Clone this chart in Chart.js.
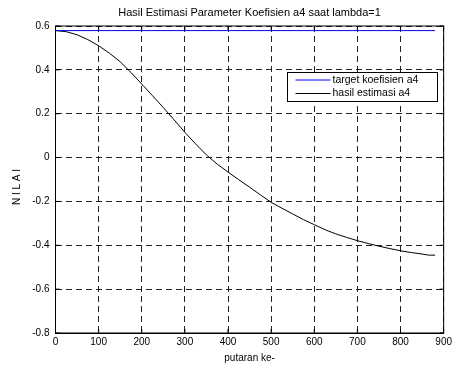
<!DOCTYPE html>
<html>
<head>
<meta charset="utf-8">
<title>Hasil Estimasi Parameter Koefisien a4</title>
<script src="https://cdn.jsdelivr.net/npm/chart.js@4.4.1/dist/chart.umd.min.js"></script>
<style>
  html, body { margin: 0; padding: 0; background: #fff; }
  #wrap { width: 455px; height: 369px; }
</style>
</head>
<body>
<div id="wrap"><canvas id="chart" width="455" height="369"></canvas></div>
<script>
// ==============================
// Data
// ==============================
const iterations = [0, 25, 50, 75, 100, 125, 150, 175, 200, 225, 250, 275, 300, 325, 350, 375,
  400, 425, 450, 475, 500, 525, 550, 575, 600, 625, 650, 675, 700, 725, 750, 775, 800, 825, 850, 865, 880];
const estimateA4 = [0.579, 0.574, 0.560, 0.538, 0.510, 0.476, 0.437, 0.388, 0.335, 0.282, 0.228, 0.172,
  0.115, 0.062, 0.012, -0.030, -0.066, -0.101, -0.135, -0.170, -0.204, -0.231, -0.257, -0.283, -0.306,
  -0.329, -0.348, -0.364, -0.379, -0.392, -0.404, -0.415, -0.425, -0.433, -0.440, -0.445, -0.445];
const targetIter = [0, 880];
const targetA4 = [0.579, 0.579];

const xTicks = [0, 100, 200, 300, 400, 500, 600, 700, 800, 900];
const yTicks = [-0.8, -0.6, -0.4, -0.2, 0, 0.2, 0.4, 0.6];

const titleText = "Hasil Estimasi Parameter Koefisien a4 saat lambda=1";
const xLabel = "putaran ke-";
const yLabel = "N I L A I";

const FONT = "'Liberation Sans', Arial, sans-serif";

function toPoints(xs, ys) {
  return xs.map((x, i) => ({ x: x, y: ys[i] }));
}

// ==============================
// Plugin: box, inward ticks, title, axis labels, legend
// ==============================
const matlabFrame = {
  id: "matlabFrame",
  afterDatasetsDraw(chart) {
    const ctx = chart.ctx;
    const a = chart.chartArea;
    const xs = chart.scales.x, ys = chart.scales.y;
    ctx.save();

    // axes box
    ctx.strokeStyle = "#000";
    ctx.lineWidth = 1;
    ctx.setLineDash([]);
    ctx.strokeRect(a.left, a.top, a.right - a.left, a.bottom - a.top);

    // inward tick marks on all four sides
    const tl = 4;
    ctx.beginPath();
    xTicks.forEach((v) => {
      const px = xs.getPixelForValue(v);
      ctx.moveTo(px, a.bottom); ctx.lineTo(px, a.bottom - tl);
      ctx.moveTo(px, a.top); ctx.lineTo(px, a.top + tl);
    });
    yTicks.forEach((v) => {
      const py = ys.getPixelForValue(v);
      ctx.moveTo(a.left, py); ctx.lineTo(a.left + tl, py);
      ctx.moveTo(a.right, py); ctx.lineTo(a.right - tl, py);
    });
    ctx.stroke();

    // title
    ctx.fillStyle = "#000";
    ctx.font = "11px " + FONT;
    ctx.textAlign = "center";
    ctx.textBaseline = "middle";
    ctx.fillText(titleText, (a.left + a.right) / 2, 13);

    // axis labels
    ctx.font = "10px " + FONT;
    ctx.fillText(xLabel, (a.left + a.right) / 2, 358);
    ctx.save();
    ctx.translate(17, 187);
    ctx.rotate(-Math.PI / 2);
    ctx.fillText(yLabel, 0, 0);
    ctx.restore();

    // legend box
    const lx = 287.5, ly = 72.5, lw = 150, lh = 29;
    ctx.fillStyle = "#fff";
    ctx.fillRect(lx, ly, lw, lh);
    ctx.strokeStyle = "#000";
    ctx.strokeRect(lx, ly, lw, lh);
    ctx.font = "10.5px " + FONT;
    ctx.textAlign = "left";
    chart.data.datasets.forEach((ds, i) => {
      const y = ly + 7.5 + i * 13.5;
      ctx.strokeStyle = ds.borderColor;
      ctx.beginPath();
      ctx.moveTo(lx + 8, y);
      ctx.lineTo(lx + 43, y);
      ctx.stroke();
      ctx.fillStyle = "#000";
      ctx.fillText(ds.label, lx + 45, y);
    });

    ctx.restore();
  },
};

// ==============================
// Chart
// ==============================
const ctx = document.getElementById("chart").getContext("2d");
new Chart(ctx, {
  type: "line",
  data: {
    datasets: [
      {
        label: "target koefisien a4",
        data: toPoints(targetIter, targetA4),
        borderColor: "#0000ff",
        borderWidth: 1,
        pointRadius: 0,
        tension: 0,
      },
      {
        label: "hasil estimasi a4",
        data: toPoints(iterations, estimateA4),
        borderColor: "#000000",
        borderWidth: 1,
        pointRadius: 0,
        tension: 0,
      },
    ],
  },
  options: {
    responsive: false,
    animation: false,
    devicePixelRatio: 1,
    layout: { padding: { left: 0, right: 9.5, top: 26, bottom: 0 } },
    plugins: {
      legend: { display: false },
      title: { display: false },
      tooltip: { enabled: false },
    },
    scales: {
      x: {
        type: "linear",
        min: 0,
        max: 900,
        afterBuildTicks: (s) => { s.ticks = xTicks.map((v) => ({ value: v })); },
        afterFit: (s) => { s.height = 36; },
        ticks: {
          color: "#000",
          font: { family: FONT, size: 10 },
          padding: 3,
          maxRotation: 0,
          callback: (v) => String(v),
        },
        grid: { color: "#222", lineWidth: 1, drawTicks: false },
        border: { display: true, color: "#000", width: 1, dash: [6, 4] },
      },
      y: {
        type: "linear",
        min: -0.8,
        max: 0.6,
        afterBuildTicks: (s) => { s.ticks = yTicks.map((v) => ({ value: v })); },
        afterFit: (s) => { s.width = 55.5; },
        ticks: {
          color: "#000",
          font: { family: FONT, size: 10 },
          padding: 6,
          callback: (v) => String(Number(Number(v).toFixed(1))),
        },
        grid: { color: "#222", lineWidth: 1, drawTicks: false },
        border: { display: true, color: "#000", width: 1, dash: [6, 4] },
      },
    },
  },
  plugins: [matlabFrame],
});
</script>
</body>
</html>
